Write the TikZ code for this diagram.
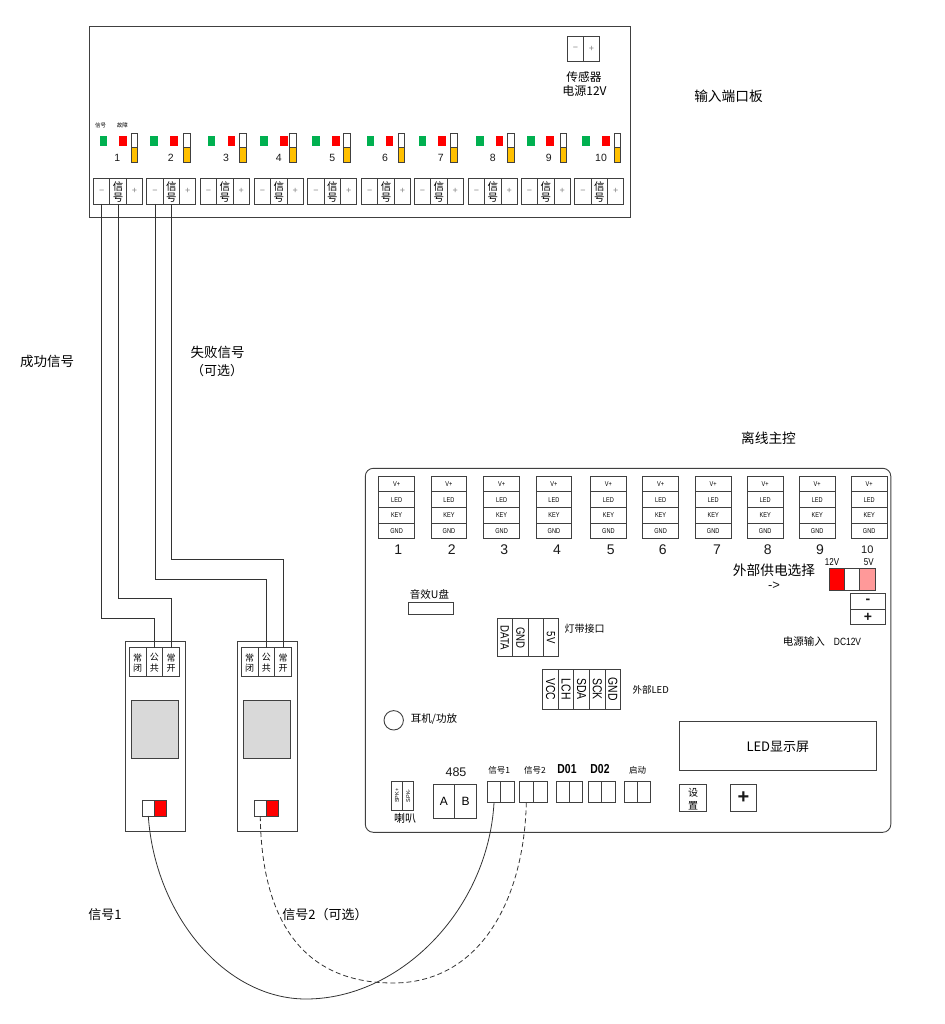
\documentclass[tikz,border=0pt]{standalone}
\usepackage{fontspec}
\setmainfont{Liberation Sans}
\newfontfamily\cjk{Noto Sans CJK SC}
\newfontfamily\narrow[FakeStretch=0.8]{Liberation Sans}
\usetikzlibrary{positioning}

\definecolor{ledgreen}{RGB}{0,176,80}
\definecolor{ledred}{RGB}{255,0,0}
\definecolor{amber}{RGB}{255,192,0}
\definecolor{pinkcell}{RGB}{255,153,153}
\definecolor{lcdgray}{RGB}{217,217,217}

\tikzset{
  line/.style={draw=black!75,line width=0.9pt},
  box/.style={line,rectangle,inner sep=0pt,outer sep=0pt,anchor=north west},
  txt/.style={inner sep=0pt,outer sep=0pt,yshift=-0.7pt,font=\cjk\fontsize{#1}{#1}\selectfont,text=black,align=center},
  lat/.style={inner sep=0pt,outer sep=0pt,font=\fontsize{#1}{#1}\selectfont,text=black!90},
  nar/.style={inner sep=0pt,outer sep=0pt,font=\narrow\fontsize{#1}{#1}\selectfont,text=black},
  cell/.style 2 args={box,minimum width=#1,minimum height=#2},
  vcell/.style 2 args={line,rectangle,inner sep=0pt,outer sep=0pt,rotate=-90,minimum width=#1,minimum height=#2},
  wire/.style={draw=black!80,line width=0.8pt},
}

\begin{document}
\begin{tikzpicture}[x=1pt,y=-1pt]
  \useasboundingbox (0,0) rectangle (944,1024);

  % input board
  \node[cell={541pt}{191pt}] (inboard) at (89.3,26.8) {};
  \node[txt=13.7] (inboardlabel) at (728.5,96) {输入端口板};

  \node[cell={16.2pt}{24.6pt}] (senm) at (567.3,36.7) {};
  \node[cell={16.2pt}{24.6pt},right=0pt of senm] (senp) {};
  \node[lat=9,text=black!50] at (senm) {−};
  \node[lat=9,text=black!50] at (senp) {+};
  \node[txt=11.7] (senlabel) at (584,76.7) {传感器};
  \node[txt=12] (senpower) at (584.5,90.3) {电源12V};

  \node[txt=5.5] (siglabel) at (100.7,125) {信号};
  \node[txt=5.5] (faultlabel) at (122.3,125) {故障};

  \foreach \i/\gx/\rx/\bx/\nx/\tx in {
    1/99.7/119.3/131/117.3/93.7,
    2/150.4/170/183.5/170.7/146.8,
    3/207.7/227.5/239.4/226/200.4,
    4/260.3/280/289.8/278.7/254.3,
    5/312.2/332/343.8/332.3/307.8,
    6/366.7/385.7/398.2/385/361.7,
    7/418.7/438.2/450.4/440.7/414.4,
    8/476/495.6/507.8/492.7/468.3,
    9/527/546.2/560.2/548.7/521.4,
    10/582.4/602.2/614/601/574.8} {
    \node[cell={7.5pt}{10pt},fill=ledgreen,draw=none] (g\i) at (\gx,136) {};
    \node[cell={7.5pt}{10pt},fill=ledred,draw=none] (r\i) at (\rx,136) {};
    \node[cell={6.6pt}{14.3pt}] (bt\i) at (\bx,133) {};
    \node[cell={6.6pt}{15.4pt},fill=amber,below=0pt of bt\i] (bb\i) {};
    \node[lat=10.5] (n\i) at (\nx,157.5) {\i};
    \node[cell={16.2pt}{25.3pt}] (tm\i) at (\tx,178.7) {};
    \node[cell={16.6pt}{25.3pt},right=0pt of tm\i] (ts\i) {};
    \node[cell={16.2pt}{25.3pt},right=0pt of ts\i] (tp\i) {};
    \node[lat=9,text=black!50] at (tm\i) {−};
    \node[lat=9,text=black!50] at (tp\i) {+};
    \node[txt=10.5] at (ts\i) {信\\号};
  }

  \node[txt=13.5] (oklabel) at (47,361) {成功信号};
  \node[txt=13.5] (faillabel) at (217.5,352) {失败信号};
  \node[txt=13] (failopt) at (217,370) {（可选）};

  % relays
  \foreach \i/\x in {1/125,2/237} {
    \node[cell={60pt}{190.7pt}] (relay\i) at (\x,641) {};
    \node[cell={16.7pt}{29pt}] (nc\i) at (\x+4.3,647.7) {};
    \node[cell={16.7pt}{29pt},right=0pt of nc\i] (com\i) {};
    \node[cell={16.7pt}{29pt},right=0pt of com\i] (no\i) {};
    \node[txt=9] at (nc\i) {常\\[1.5pt]闭};
    \node[txt=9] at (com\i) {公\\[1.5pt]共};
    \node[txt=9] at (no\i) {常\\[1.5pt]开};
    \node[cell={46.5pt}{58pt},fill=lcdgray] (lcd\i) at (\x+6.7,700) {};
    \node[cell={12pt}{16pt}] (swa\i) at (\x+17.3,800) {};
    \node[cell={12.6pt}{16pt},fill=ledred,right=0pt of swa\i] (swb\i) {};
  }

  % main board
  \node[cell={525.5pt}{364pt},rounded corners=8pt] (mainboard) at (365.3,468.3) {};
  \node[txt=13.7] (mainlabel) at (768.5,438) {离线主控};

  \foreach \i/\x/\nx in {
    1/378.7/398.3,
    2/431/451.7,
    3/483.7/504.3,
    4/536/557,
    5/590.5/610.7,
    6/642.7/662.7,
    7/695.3/717,
    8/747.3/767.7,
    9/799.3/820} {
    \foreach \r/\t in {0/V+,1/LED,2/KEY,3/GND} {
      \node[cell={35.8pt}{15.6pt}] (k\i-\r) at (\x,{476.3+15.6*\r}) {};
      \node[nar=7] at (k\i-\r) {\t};
    }
    \node[lat=14] (kn\i) at (\nx,549.5) {\i};
  }
  \foreach \r/\t in {0/V+,1/LED,2/KEY,3/GND} {
    \node[cell={35.8pt}{15.6pt}] (k10-\r) at (851.3,{476.3+15.6*\r}) {};
    \node[nar=7] at (k10-\r) {\t};
  }
  \node[lat=11] (kn10) at (867.3,550) {10};

  \node[nar=10] (v12) at (832,561.7) {12V};
  \node[nar=10] (v5) at (868.7,561.7) {5V};
  \node[txt=13.7] (powersel) at (774,569.3) {外部供电选择};
  \node[lat=13] (powerarrow) at (774,585.5) {->};
  \node[cell={15pt}{21.3pt},fill=ledred] (sela) at (829,568.7) {};
  \node[cell={15.3pt}{21.3pt},right=0pt of sela] (selb) {};
  \node[cell={16pt}{21.3pt},fill=pinkcell,right=0pt of selb] (selc) {};

  \node[cell={35.7pt}{15.6pt}] (pwrm) at (850,593.7) {};
  \node[cell={35.7pt}{15.6pt},below=0pt of pwrm] (pwrp) {};
  \node[lat=14,font=\bfseries\fontsize{14}{14}\selectfont] at (pwrm) {-};
  \node[lat=14,font=\bfseries\fontsize{14}{14}\selectfont] at (pwrp) {+};
  \node[txt=10.5] (pwrlabel) at (822,641) {电源输入\hspace{9pt}{\narrow DC12V}};

  \node[txt=10.5] (usblabel) at (429.5,593.3) {音效U盘};
  \node[cell={44.7pt}{12pt}] (usb) at (408.3,602.3) {};

  \foreach \i/\x/\w/\t in {1/504.85/15.7/DATA,2/520.5/15.7/GND,3/535.65/14.7/,4/550.85/15.7/5V} {
    \node[vcell={38pt}{\w pt},font=\narrow\fontsize{12}{12}\selectfont] (strip\i) at (\x,637.7) {\t};
  }
  \node[txt=10] (striplabel) at (584.5,627.7) {灯带接口};

  \foreach \i/\x/\t in {1/550.5/VCC,2/566.1/LCH,3/581.7/SDA,4/597.3/SCK,5/612.9/GND} {
    \node[vcell={39.7pt}{15.6pt},font=\narrow\fontsize{13}{13}\selectfont] (ext\i) at (\x,689.2) {\t};
  }
  \node[txt=9.5] (extlabel) at (650.7,689.3) {外部LED};

  \node[line,circle,inner sep=0pt,minimum size=19.4pt] (jack) at (393.7,720.3) {};
  \node[txt=10.5] (jacklabel) at (434,718) {耳机/功放};

  \foreach \i/\x/\t in {1/397/SPK+,2/408.2/SPK-} {
    \node[line,rectangle,inner sep=0pt,outer sep=0pt,rotate=90,minimum width=29pt,minimum height=11.2pt,font=\fontsize{5.5}{5.5}\selectfont] (spk\i) at (\x,795.8) {\t};
  }
  \node[txt=11] (spklabel) at (405,817.5) {喇叭};

  \node[lat=12.5] (rslabel) at (456,771.7) {485};
  \node[cell={21pt}{34.4pt},font=\fontsize{12}{12}\selectfont] (rsa) at (433.3,784.3) {A};
  \node[cell={22.4pt}{34.4pt},font=\fontsize{12}{12}\selectfont,right=0pt of rsa] (rsb) {B};

  \foreach \i/\x/\w/\t in {
    sa/487.3/13.4/{\node[txt=8.5] at (499.3,769.3) {信号1};},
    sb/519.3/14/{\node[txt=8.5] at (535,769.3) {信号2};},
    da/556/13/{\node[nar=13,font=\narrow\bfseries\fontsize{13}{13}\selectfont] at (567,769) {D01};},
    db/588.3/13.4/{\node[nar=13,font=\narrow\bfseries\fontsize{13}{13}\selectfont] at (600,769) {D02};},
    st/624.7/13/{\node[txt=8.5] at (637.7,769.3) {启动};}} {
    \node[cell={\w pt}{21.4pt}] (\i l) at (\x,781.3) {};
    \node[cell={\w pt}{21.4pt},right=0pt of \i l] (\i r) {};
    \t
  }

  \node[cell={196.3pt}{48.6pt}] (screen) at (679.7,721.7) {};
  \node[txt=13] at (screen) {LED显示屏};
  \node[cell={26.6pt}{26.6pt}] (setbtn) at (679.7,784.7) {};
  \node[txt=10] at (setbtn) {设\\[3pt]置};
  \node[cell={26.4pt}{26.6pt}] (plusbtn) at (730.3,784.7) {};
  \node[lat=20,font=\bfseries\fontsize{20}{20}\selectfont] at (plusbtn) {+};

  % wires
  \coordinate (wa) at (tm1.south |- 0,618.7);
  \coordinate (wb) at (ts1.south |- 0,598.7);
  \coordinate (wc) at (tm2.south |- 0,579.3);
  \coordinate (wd) at (ts2.south |- 0,559.7);
  \draw[wire] (tm1.south) -- (wa) -| (com1.north);
  \draw[wire] (ts1.south) -- (wb) -| (no1.north);
  \draw[wire] (tm2.south) -- (wc) -| (com2.north);
  \draw[wire] (ts2.south) -- (wd) -| (no2.north);

  \coordinate (ca) at (306,999);
  \coordinate (cb) at (393,983);
  \draw[wire] (swa1.south) .. controls (155,915) and (225,999) .. (ca)
    .. controls (400,999) and (488,910) .. (sal.south);
  \draw[wire,dash pattern=on 5pt off 3pt] (swa2.south) .. controls (261,885) and (280,983) .. (cb)
    .. controls (480,983) and (524,900) .. (sbl.south);

  \node[txt=13] (sig1label) at (105,914) {信号1};
  \node[txt=13] (sig2label) at (325,914.3) {信号2（可选）};
\end{tikzpicture}
\end{document}
